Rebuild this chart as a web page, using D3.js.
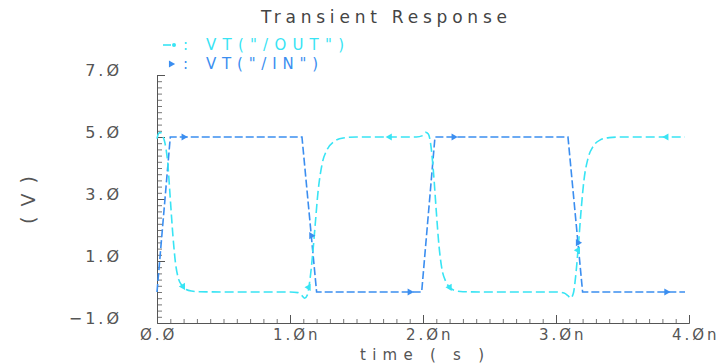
<!DOCTYPE html>
<html>
<head>
<meta charset="utf-8">
<script src="https://cdn.jsdelivr.net/npm/d3@7"></script>
<style>
  body { margin: 0; background: #fff; }
  svg text { font-family: "DejaVu Sans", sans-serif; }
</style>
</head>
<body>
<svg id="chart" width="722" height="363"></svg>
<script>
// time in ns
const outTime = [0, 0.01, 0.025, 0.04, 0.06, 0.08, 0.10, 0.12, 0.14, 0.16, 0.19, 0.22, 0.26, 0.32, 0.5, 1.0,
  1.06, 1.09, 1.11, 1.13, 1.15, 1.17, 1.19, 1.21, 1.24, 1.28, 1.33, 1.40, 1.5, 1.95,
  2.0, 2.02, 2.04, 2.06, 2.08, 2.10, 2.12, 2.14, 2.17, 2.20, 2.24, 2.3, 2.5, 3.0,
  3.06, 3.09, 3.11, 3.13, 3.15, 3.17, 3.19, 3.21, 3.24, 3.28, 3.33, 3.40, 3.5, 3.97];
const outVolt = [4.95, 5.1, 5.15, 5.05, 4.8, 4.2, 3.0, 1.8, 0.9, 0.45, 0.2, 0.08, 0.03, 0.01, 0, 0,
  -0.02, -0.12, -0.2, -0.1, 0.4, 1.2, 2.2, 3.2, 4.1, 4.6, 4.85, 4.97, 5.0, 5.0,
  5.05, 5.15, 5.1, 4.7, 3.8, 2.6, 1.5, 0.8, 0.35, 0.15, 0.05, 0.01, 0, 0,
  -0.03, -0.12, -0.2, -0.05, 0.6, 1.6, 2.7, 3.6, 4.3, 4.7, 4.9, 4.98, 5.0, 5.0];
const inTime = [0, 0.1, 1.09, 1.2, 1.99, 2.09, 3.09, 3.2, 3.97];
const inVolt = [0, 5, 5, 0, 0, 5, 5, 0, 0];

const outMarkTimes = [0.195, 1.14, 1.75, 2.2, 3.165, 3.83];
const inMarkTimes = [0.2, 1.16, 1.9, 2.23, 3.165, 3.83];

const yTicks = [-1, 1, 3, 5, 7];
const xTicks = [0, 1, 2, 3, 4];
const legendLabels = ['VT("/OUT")', 'VT("/IN")'];

const outColor = '#38e4f4';
const inColor = '#3b8ef0';
const axisColor = '#777';
const textColor = '#555';

const svg = d3.select('#chart');
const x = d3.scaleLinear().domain([0, 4]).range([157, 689]);
const y = d3.scaleLinear().domain([-1, 7]).range([323, 75]);

const fmt = d => d.toFixed(1).replace(/0/g, 'Ø').replace('-', '−');

// title
svg.append('text')
  .attr('x', 384).attr('y', 23)
  .attr('text-anchor', 'middle')
  .attr('textLength', 246).attr('lengthAdjust', 'spacing')
  .style('font-size', '17px').attr('fill', '#444')
  .text('Transient Response');

// y axis
const yMinor = d3.range(-1, 7.01, 0.2).map(v => +v.toFixed(1));
svg.append('g')
  .attr('transform', `translate(${x(0)},0)`)
  .call(d3.axisRight(y).tickValues(yMinor).tickSize(5).tickFormat(''))
  .call(g => g.selectAll('line, path').attr('stroke', axisColor));
const yAxis = svg.append('g')
  .attr('transform', `translate(${x(0)},0)`)
  .call(d3.axisLeft(y).tickValues(yTicks).tickSizeInner(-8).tickSizeOuter(0).tickPadding(35).tickFormat(fmt));
yAxis.selectAll('line, path').attr('stroke', '#555');
yAxis.selectAll('text')
  .attr('dy', '0.05em')
  .attr('fill', textColor)
  .style('font-size', '16px')
  .style('letter-spacing', '3px')
  .style('font-family', '"DejaVu Sans", sans-serif');

// x axis
const xMinor = d3.range(0, 4.01, 0.1).map(v => +v.toFixed(1));
svg.append('g')
  .attr('transform', `translate(0,${y(-1)})`)
  .call(d3.axisTop(x).tickValues(xMinor).tickSize(4).tickFormat(''))
  .call(g => g.selectAll('line, path').attr('stroke', axisColor));
const xAxis = svg.append('g')
  .attr('transform', `translate(0,${y(-1)})`)
  .call(d3.axisTop(x).tickValues(xTicks).tickSizeOuter(0).tickSizeInner(8).tickFormat(''));
xAxis.selectAll('line, path').attr('stroke', '#555');
svg.append('g').selectAll('text')
  .data(xTicks)
  .enter()
  .append('text')
  .attr('x', d => x(d) - 17)
  .attr('y', 340)
  .attr('fill', textColor)
  .style('font-size', '15px')
  .style('letter-spacing', '3px')
  .text(d => fmt(d) + (d > 0 ? 'n' : ''));

// axis titles
svg.append('text')
  .attr('x', 422).attr('y', 360)
  .attr('text-anchor', 'middle')
  .attr('fill', textColor)
  .style('font-size', '15px')
  .attr('textLength', 124).attr('lengthAdjust', 'spacing')
  .text('time ( s )');
svg.append('text')
  .attr('transform', 'translate(35,199) rotate(-90)')
  .attr('text-anchor', 'middle')
  .attr('fill', textColor)
  .style('font-size', '19px')
  .style('letter-spacing', '2px')
  .text('( V )');

// lines
const outData = outTime.map((t, i) => ({ t, v: outVolt[i] }));
const inData = inTime.map((t, i) => ({ t, v: inVolt[i] }));
const lineGen = curve => d3.line().x(d => x(d.t)).y(d => y(d.v)).curve(curve);

svg.append('path')
  .datum(inData)
  .attr('fill', 'none')
  .attr('stroke', inColor)
  .attr('stroke-width', 1.6)
  .attr('stroke-dasharray', '8,3')
  .attr('d', lineGen(d3.curveLinear));
svg.append('path')
  .datum(outData)
  .attr('fill', 'none')
  .attr('stroke', outColor)
  .attr('stroke-width', 1.6)
  .attr('stroke-dasharray', '9,4')
  .attr('d', lineGen(d3.curveMonotoneX));

// markers
const interp = (ts, vs, t) => {
  const i = d3.bisectRight(ts, t);
  if (i <= 0) return vs[0];
  if (i >= ts.length) return vs[vs.length - 1];
  const f = (t - ts[i - 1]) / (ts[i] - ts[i - 1]);
  return vs[i - 1] + f * (vs[i] - vs[i - 1]);
};
const tri = d3.symbol().type(d3.symbolTriangle).size(22);
svg.append('g').selectAll('path')
  .data(inMarkTimes)
  .enter()
  .append('path')
  .attr('d', tri)
  .attr('fill', inColor)
  .attr('transform', t => `translate(${x(t)},${y(interp(inTime, inVolt, t))}) rotate(90)`);
svg.append('g').selectAll('path')
  .data(outMarkTimes)
  .enter()
  .append('path')
  .attr('d', tri)
  .attr('fill', outColor)
  .attr('transform', t => `translate(${x(t)},${y(interp(outTime, outVolt, t))}) rotate(-90)`);

// legend
const legend = svg.append('g');
legend.append('line')
  .attr('x1', 163).attr('x2', 171).attr('y1', 45).attr('y2', 45)
  .attr('stroke', outColor).attr('stroke-width', 1.6);
legend.append('circle')
  .attr('cx', 174).attr('cy', 45).attr('r', 2).attr('fill', outColor);
legend.append('path')
  .attr('d', tri)
  .attr('fill', inColor)
  .attr('transform', 'translate(171,64) rotate(90)');
[outColor, inColor].forEach((c, i) => {
  legend.append('text')
    .attr('x', 183).attr('y', 50 + i * 19)
    .attr('fill', c)
    .style('font-size', '15px')
    .text(':');
  legend.append('text')
    .attr('x', 206).attr('y', 50 + i * 19)
    .attr('fill', c)
    .style('font-size', '15px')
    .attr('textLength', i === 0 ? 138 : 112).attr('lengthAdjust', 'spacing')
    .text(legendLabels[i]);
});
</script>
</body>
</html>
